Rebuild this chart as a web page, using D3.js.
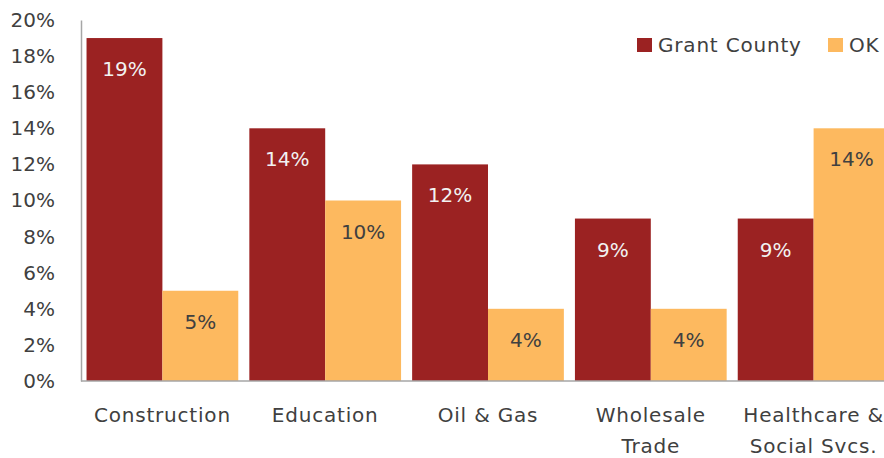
<!DOCTYPE html>
<html>
<head>
<meta charset="utf-8">
<script src="https://cdn.jsdelivr.net/npm/d3@7"></script>
<style>
  body { margin: 0; background: #fff; }
  text { font-family: "DejaVu Sans", sans-serif; }
</style>
</head>
<body>
<div id="chart"></div>
<script>
var categories = [["Construction"], ["Education"], ["Oil & Gas"], ["Wholesale", "Trade"], ["Healthcare &", "Social Svcs."]];
var seriesNames = ["Grant County", "OK"];
var grantCounty = [19, 14, 12, 9, 9];
var oklahoma = [5, 10, 4, 4, 14];
var yTicks = [0, 2, 4, 6, 8, 10, 12, 14, 16, 18, 20];

var svgWidth = 884;
var svgHeight = 458;
var colors = ["#9b2222", "#fdb95f"];
var textColor = "#404040";

var svg = d3.select("#chart")
  .append("svg")
  .attr("width", svgWidth)
  .attr("height", svgHeight);

// scales
var x0 = d3.scaleBand()
  .domain(d3.range(categories.length))
  .range([81, 895])
  .paddingInner(0.068)
  .paddingOuter(0.034);

var x1 = d3.scaleBand()
  .domain(d3.range(seriesNames.length))
  .range([0, x0.bandwidth()]);

var y = d3.scaleLinear()
  .domain([0, 20])
  .range([381, 20]);

var series = [grantCounty, oklahoma];

// bars + value labels
series.forEach(function(vals, s) {
  svg.append("g").selectAll("rect")
    .data(vals)
    .enter()
    .append("rect")
    .attr("x", (d, i) => x0(i) + x1(s))
    .attr("y", d => y(d))
    .attr("width", x1.bandwidth())
    .attr("height", d => y(0) - y(d))
    .attr("fill", colors[s]);

  svg.append("g").selectAll("text")
    .data(vals)
    .enter()
    .append("text")
    .attr("x", (d, i) => x0(i) + x1(s) + x1.bandwidth() / 2)
    .attr("y", d => y(d) + 38)
    .attr("text-anchor", "middle")
    .attr("font-size", "20px")
    .attr("fill", s == 0 ? "#f2f2f2" : textColor)
    .text(d => d + "%");
});

// y axis
var leftAxis = d3.axisLeft(y)
  .tickValues(yTicks)
  .tickSize(0)
  .tickPadding(26)
  .tickFormat(d => d + "%");

var yAxis = svg.append("g")
  .attr("transform", "translate(81,0)")
  .call(leftAxis);
yAxis.select(".domain").attr("stroke", "#a6a6a6").attr("stroke-width", 1.5);
yAxis.selectAll("text")
  .attr("font-size", "20px")
  .attr("fill", textColor)
  .attr("font-family", "DejaVu Sans, sans-serif");

// x axis line
svg.append("line")
  .attr("x1", 81)
  .attr("x2", svgWidth)
  .attr("y1", y(0))
  .attr("y2", y(0))
  .attr("stroke", "#a6a6a6")
  .attr("stroke-width", 1.5);

// category labels
var catLabels = svg.append("g").selectAll("text")
  .data(categories)
  .enter()
  .append("text")
  .attr("x", (d, i) => x0(i) + x0.bandwidth() / 2)
  .attr("y", 422)
  .attr("text-anchor", "middle")
  .attr("font-size", "20px")
  .attr("letter-spacing", "0.8px")
  .attr("fill", textColor);

catLabels.selectAll("tspan")
  .data(d => d)
  .enter()
  .append("tspan")
  .attr("x", function() { return d3.select(this.parentNode).attr("x"); })
  .attr("dy", (d, i) => i == 0 ? 0 : 31)
  .text(d => d);

// legend
var legendX = [637, 828];
var legend = svg.append("g");
seriesNames.forEach(function(name, i) {
  legend.append("rect")
    .attr("x", legendX[i])
    .attr("y", 38)
    .attr("width", 15)
    .attr("height", 14)
    .attr("fill", colors[i]);
  legend.append("text")
    .attr("x", legendX[i] + 21)
    .attr("y", 52)
    .attr("font-size", "20px")
    .attr("letter-spacing", "0.8px")
    .attr("fill", textColor)
    .text(name);
});
</script>
</body>
</html>
